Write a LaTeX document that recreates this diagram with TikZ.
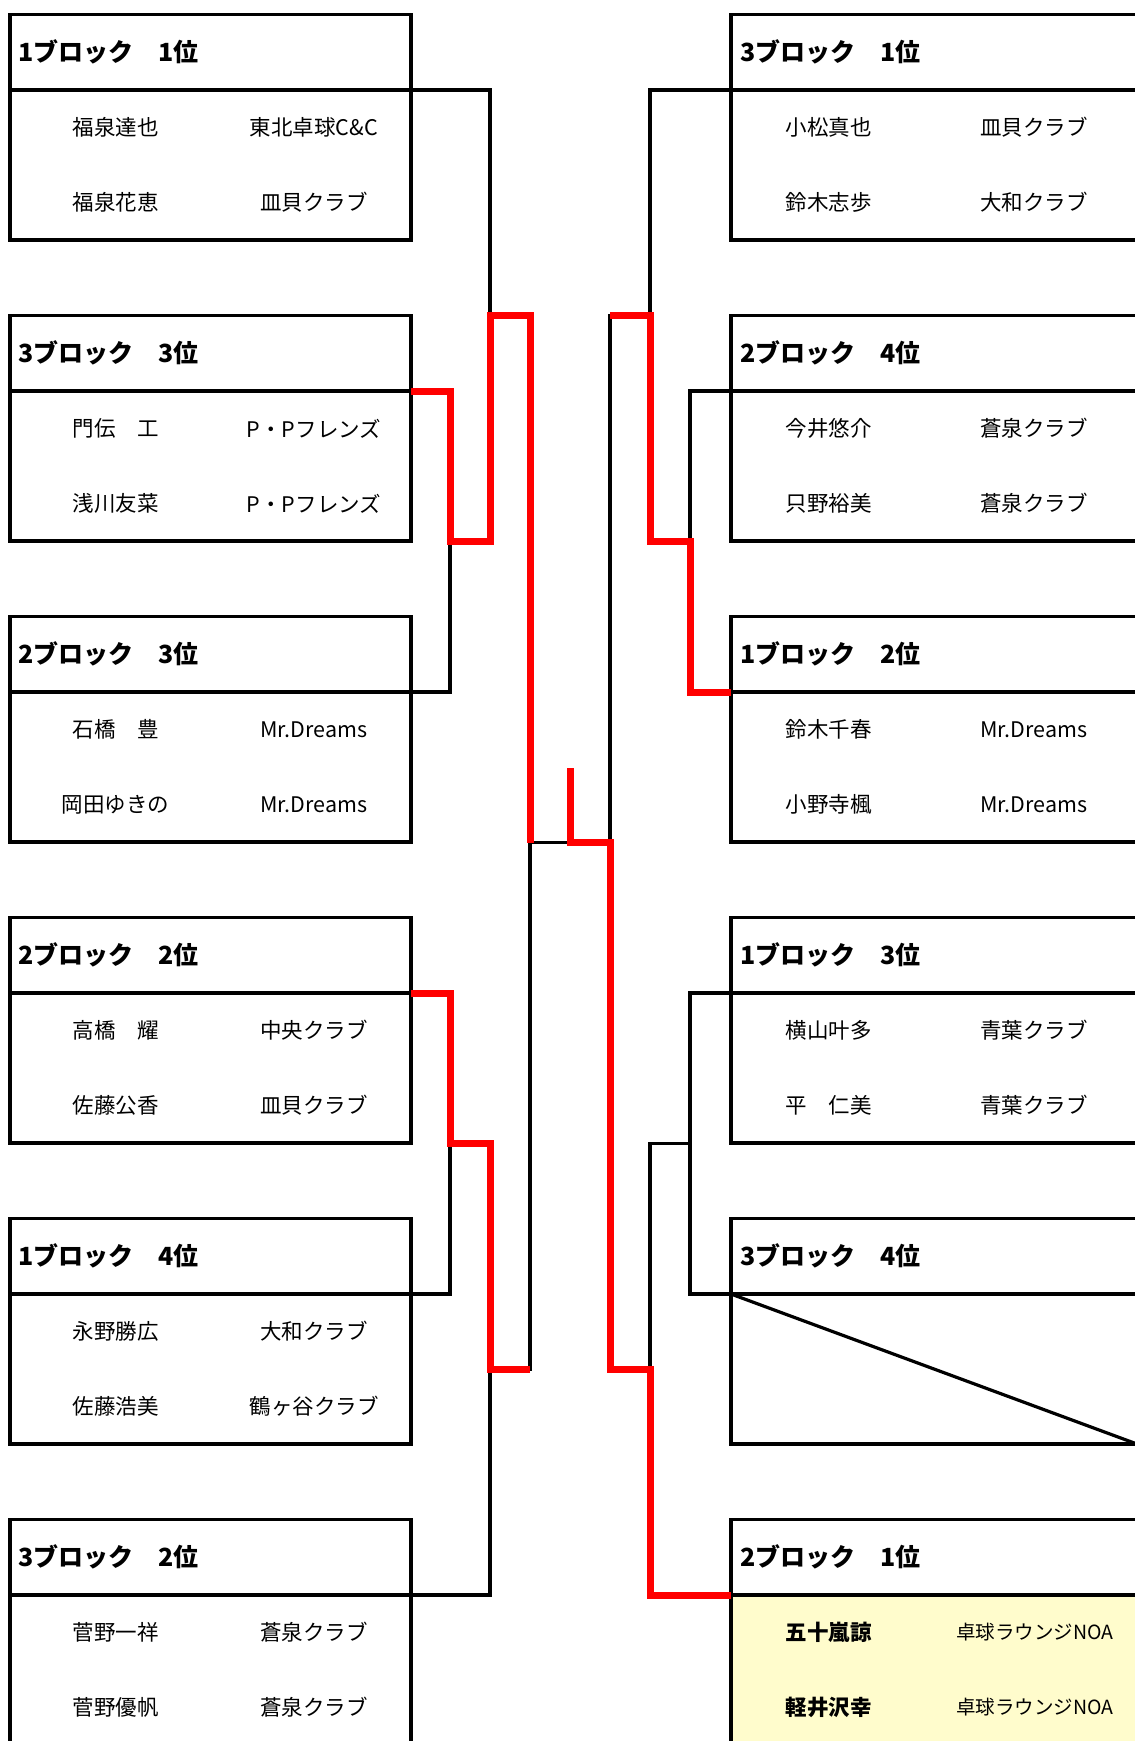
\documentclass[tikz,border=0pt]{standalone}
\usepackage{fontspec}
\setmainfont{Noto Sans CJK JP}
\usetikzlibrary{positioning,calc}

\begin{document}
\begin{tikzpicture}[x=1pt,y=-1pt,
    frame/.style={line width=3.2pt},
    wire/.style={line width=3.2pt},
    win/.style={line width=7pt,red},
    head/.style={anchor=west,inner sep=0pt,font=\fontsize{25}{25}\selectfont\bfseries},
    player/.style={inner sep=0pt,font=\fontsize{21.5}{21.5}\selectfont},
    club/.style={inner sep=0pt,font=\fontsize{19.5}{19.5}\selectfont}]
    \useasboundingbox (0,0) rectangle (1135,1741);

    % left side entries
    \foreach \i/\h/\na/\ca/\nb/\cb in {
        0/1ブロック　1位/福泉達也/東北卓球C\&C/福泉花恵/皿貝クラブ,
        1/3ブロック　3位/門伝　工/P・Pフレンズ/浅川友菜/P・Pフレンズ,
        2/2ブロック　3位/石橋　豊/Mr.Dreams/岡田ゆきの/Mr.Dreams,
        3/2ブロック　2位/高橋　耀/中央クラブ/佐藤公香/皿貝クラブ,
        4/1ブロック　4位/永野勝広/大和クラブ/佐藤浩美/鶴ヶ谷クラブ,
        5/3ブロック　2位/菅野一祥/蒼泉クラブ/菅野優帆/蒼泉クラブ} {
        \pgfmathsetmacro\t{14.5+301*\i}
        \pgfmathsetmacro\d{\t+75.5}
        \draw[frame] (10,\t) rectangle (411,\t+225.5);
        \draw[frame] (10,\d) -- (411,\d);
        \node[head] (hL\i) at (18,\t+37.75) {\h};
        \node[player] (nL\i a) at (115.5,\d+37.5) {\na};
        \node[player] (cL\i a) at (314,\d+37.5) {\ca};
        \node[player] (nL\i b) at (115.5,\d+112.5) {\nb};
        \node[player] (cL\i b) at (314,\d+112.5) {\cb};
        \coordinate (pL\i) at (411,\d);
    }

    % right side entries
    \fill[yellow!20] (731,1595) rectangle (1137,1745);
    \foreach \i/\h in {0/3ブロック　1位,1/2ブロック　4位,2/1ブロック　2位,
        3/1ブロック　3位,4/3ブロック　4位,5/2ブロック　1位} {
        \pgfmathsetmacro\t{14.5+301*\i}
        \pgfmathsetmacro\d{\t+75.5}
        \draw[frame] (731,\t) rectangle (1137,\t+225.5);
        \draw[frame] (731,\d) -- (1137,\d);
        \node[head] (hR\i) at (740,\t+37.75) {\h};
        \coordinate (pR\i) at (731,\d);
    }
    \foreach \i/\na/\ca/\nb/\cb in {
        0/小松真也/皿貝クラブ/鈴木志歩/大和クラブ,
        1/今井悠介/蒼泉クラブ/只野裕美/蒼泉クラブ,
        2/鈴木千春/Mr.Dreams/小野寺楓/Mr.Dreams,
        3/横山叶多/青葉クラブ/平　仁美/青葉クラブ} {
        \pgfmathsetmacro\d{90+301*\i}
        \node[player] (nR\i a) at (828.5,\d+37.5) {\na};
        \node[player] (cR\i a) at (1034,\d+37.5) {\ca};
        \node[player] (nR\i b) at (828.5,\d+112.5) {\nb};
        \node[player] (cR\i b) at (1034,\d+112.5) {\cb};
    }
    \coordinate (emptyend) at (1137,1444);
    \draw[wire] (pR4) -- (emptyend);
    \node[player,font=\fontsize{21.5}{21.5}\selectfont\bfseries] (nR5a) at (828.5,1632.5) {五十嵐諒};
    \node[club] (cR5a) at (1035,1632.5) {卓球ラウンジNOA};
    \node[player,font=\fontsize{21.5}{21.5}\selectfont\bfseries] (nR5b) at (828.5,1707.5) {軽井沢幸};
    \node[club] (cR5b) at (1035,1707.5) {卓球ラウンジNOA};

    % bracket joints
    \coordinate (aL1) at (450,541.5);
    \coordinate (aL2) at (450,1143.5);
    \coordinate (bL1) at (490,315.75);
    \coordinate (bL2) at (490,1369.25);
    \coordinate (semiL) at (530,842.5);
    \coordinate (aR1) at (690,541.5);
    \coordinate (aR2) at (690,1143.5);
    \coordinate (bR1) at (650,315.75);
    \coordinate (bR2) at (650,1369.25);
    \coordinate (semiR) at (610,842.5);
    \coordinate (champ) at (570,768.4);

    \draw[wire] (pL1) -| (aL1) |- (pL2);
    \draw[wire] (pL0) -| (bL1) |- (aL1);
    \draw[wire] (pL3) -| (aL2) |- (pL4);
    \draw[wire] (pL5) -| (bL2) |- (aL2);
    \draw[wire] (bL1) -| (semiL) |- (bL2);
    \draw[wire] (pR1) -| (aR1) |- (pR2);
    \draw[wire] (pR0) -| (bR1) |- (aR1);
    \draw[wire] (pR3) -| (aR2) |- (pR4);
    \draw[wire] (pR5) -| (bR2) |- (aR2);
    \draw[wire] (bR1) -| (semiR) |- (bR2);
    \draw[wire] (semiL) -- (semiR);

    % winners
    \draw[win] (pL1) -| (aL1) -| (bL1) -| (semiL);
    \draw[win] (pL3) -| (aL2) -| (bL2) -- (bL2 -| semiL);
    \draw[win] (pR2) -| (aR1) -| (bR1) -- (bR1 -| semiR);
    \draw[win] (pR5) -| (bR2) -| (semiR) -| (champ);
\end{tikzpicture}
\end{document}
